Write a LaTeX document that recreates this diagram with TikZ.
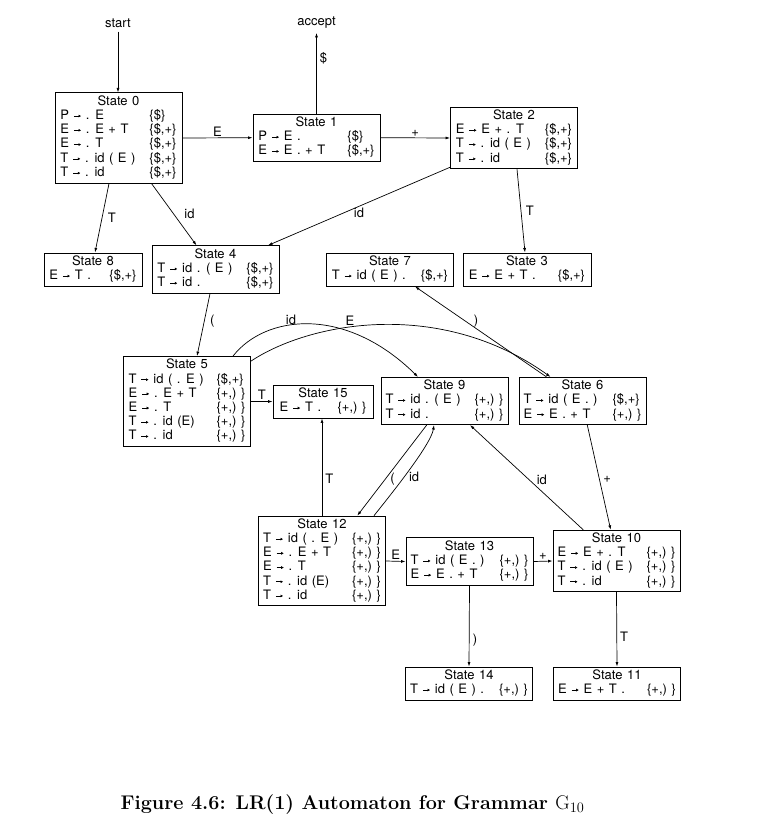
\documentclass[tikz,border=0pt]{standalone}
\usepackage{fontspec}
\usetikzlibrary{arrows.meta}
\newfontfamily\helv{TeX Gyre Heros}
\newcommand\myar{\tikz[baseline=0pt]\draw[line width=0.65pt,-{Latex[length=2.6pt,width=3pt]}] (0,3.4pt) -- (7.2pt,3.4pt);}
\newcommand\LAd{\{\$,+\}}
\newcommand\LAp{\{+,)\ \}}
\newcommand\LAs{\{\$\}}
\newcommand\stfont{\helv\fontsize{13}{14.2}\selectfont\spaceskip 4.5pt\relax}
\tikzset{
  st/.style={draw, line width=0.9pt, inner xsep=0pt, inner ysep=2.3pt,
    minimum width=127pt, font=\stfont},
  lab/.style={font=\helv\fontsize{13}{14.2}\selectfont, inner sep=1.5pt},
  tr/.style={-{Latex[length=4.5pt,width=3pt]}, line width=0.7pt},
}
\begin{document}
\begin{tikzpicture}[x=1pt,y=-1pt]
\useasboundingbox (0,0) rectangle (782,827);
% states
\node[st] (s0) at (118.5,138) {\begin{tabular}{@{}p{89pt}@{}l@{}}\multicolumn{2}{@{}c@{}}{State 0}\\
P \myar{} . E & \LAs\\ E \myar{} . E + T & \LAd\\ E \myar{} . T & \LAd\\ T \myar{} . id ( E ) & \LAd\\ T \myar{} . id & \LAd\end{tabular}};
\node[st] (s1) at (316.5,137.7) {\begin{tabular}{@{}p{89pt}@{}l@{}}\multicolumn{2}{@{}c@{}}{State 1}\\
P \myar{} E . & \LAs\\ E \myar{} E . + T & \LAd\end{tabular}};
\node[st] (s2) at (514,138) {\begin{tabular}{@{}p{89pt}@{}l@{}}\multicolumn{2}{@{}c@{}}{State 2}\\
E \myar{} E + . T & \LAd\\ T \myar{} . id ( E ) & \LAd\\ T \myar{} . id & \LAd\end{tabular}};
\node[st, minimum width=98pt] (s8) at (93,269.5) {\begin{tabular}{@{}p{60pt}@{}l@{}}\multicolumn{2}{@{}c@{}}{State 8}\\
E \myar{} T . & \LAd\end{tabular}};
\node[st] (s4) at (215.5,269.5) {\begin{tabular}{@{}p{89pt}@{}l@{}}\multicolumn{2}{@{}c@{}}{State 4}\\
T \myar{} id . ( E ) & \LAd\\ T \myar{} id . & \LAd\end{tabular}};
\node[st] (s7) at (390,269.5) {\begin{tabular}{@{}p{89pt}@{}l@{}}\multicolumn{2}{@{}c@{}}{State 7}\\
T \myar{} id ( E ) . & \LAd\end{tabular}};
\node[st, minimum width=128pt] (s3) at (527,269.5) {\begin{tabular}{@{}p{89pt}@{}l@{}}\multicolumn{2}{@{}c@{}}{State 3}\\
E \myar{} E + T . & \LAd\end{tabular}};
\node[st] (s5) at (187,401.5) {\begin{tabular}{@{}p{88pt}@{}l@{}}\multicolumn{2}{@{}c@{}}{State 5}\\
T \myar{} id ( . E ) & \LAd\\ E \myar{} . E + T & \LAp\\ E \myar{} . T & \LAp\\ T \myar{} . id (E) & \LAp\\ T \myar{} . id & \LAp\end{tabular}};
\node[st, minimum width=100pt] (s15) at (323,401.5) {\begin{tabular}{@{}p{58pt}@{}l@{}}\multicolumn{2}{@{}c@{}}{State 15}\\
E \myar{} T . & \LAp\end{tabular}};
\node[st] (s9) at (444.5,401) {\begin{tabular}{@{}p{89pt}@{}l@{}}\multicolumn{2}{@{}c@{}}{State 9}\\
T \myar{} id . ( E ) & \LAp\\ T \myar{} id . & \LAp\end{tabular}};
\node[st] (s6) at (582.5,401) {\begin{tabular}{@{}p{89pt}@{}l@{}}\multicolumn{2}{@{}c@{}}{State 6}\\
T \myar{} id ( E . ) & \LAd\\ E \myar{} E . + T & \LAp\end{tabular}};
\node[st] (s12) at (322,561) {\begin{tabular}{@{}p{89pt}@{}l@{}}\multicolumn{2}{@{}c@{}}{State 12}\\
T \myar{} id ( . E ) & \LAp\\ E \myar{} . E + T & \LAp\\ E \myar{} . T & \LAp\\ T \myar{} . id (E) & \LAp\\ T \myar{} . id & \LAp\end{tabular}};
\node[st] (s13) at (469.5,561.5) {\begin{tabular}{@{}p{89pt}@{}l@{}}\multicolumn{2}{@{}c@{}}{State 13}\\
T \myar{} id ( E . ) & \LAp\\ E \myar{} E . + T & \LAp\end{tabular}};
\node[st] (s10) at (616.5,561) {\begin{tabular}{@{}p{89pt}@{}l@{}}\multicolumn{2}{@{}c@{}}{State 10}\\
E \myar{} E + . T & \LAp\\ T \myar{} . id ( E ) & \LAp\\ T \myar{} . id & \LAp\end{tabular}};
\node[st] (s14) at (469,683.5) {\begin{tabular}{@{}p{89pt}@{}l@{}}\multicolumn{2}{@{}c@{}}{State 14}\\
T \myar{} id ( E ) . & \LAp\end{tabular}};
\node[st] (s11) at (617,683.5) {\begin{tabular}{@{}p{89pt}@{}l@{}}\multicolumn{2}{@{}c@{}}{State 11}\\
E \myar{} E + T . & \LAp\end{tabular}};
% start / accept
\node[lab, inner ysep=4pt] (start) at (118,23) {start};
\node[lab, inner ysep=4pt] (accept) at (316.5,23) {accept};
% caption
\node[anchor=base, inner sep=0pt, font=\bfseries\fontsize{19.8}{24}\selectfont] (cap) at (352.5,809)
  {Figure 4.6: LR(1) Automaton for Grammar $\mathrm{G}_{10}$};
% transitions
\draw[tr] (start.south) -- (start.south |- s0.north);
\draw[tr] (s1.north) -- (s1.north |- accept.south) node[lab, pos=0.69, right=1.5pt] {\$};
\draw[tr] (s0.east) -- (s1.west) node[lab, midway, above] {E};
\draw[tr] (s1.east) -- (s2.west) node[lab, midway, above] {+};
\draw[tr] ([xshift=-9.5pt]s0.south) -- ([xshift=2pt]s8.north) node[lab, midway, right=4pt] {T};
\draw[tr] ([xshift=33pt]s0.south) -- ([xshift=-19pt]s4.north) node[lab, pos=0.49, right=9pt] {id};
\draw[tr] ([yshift=2pt]s2.south west) -- ([xshift=52.5pt]s4.north) node[lab, midway, below] {id};
\draw[tr] ([xshift=3pt]s2.south) -- ([xshift=-2pt]s3.north) node[lab, midway, right=3pt] {T};
\draw[tr] ([xshift=-5.5pt]s4.south) -- ([xshift=10pt]s5.north) node[lab, pos=0.44, right=4pt] {(};
\draw[tr] ([xshift=46pt]s5.north) .. controls (265,315) and (345,305) .. ([xshift=-26.5pt]s9.north)
  node[lab, pos=0.4, anchor=south, inner sep=0pt] {id};
\draw[tr] ([yshift=-5pt]s5.north east) .. controls (310,322) and (440,298) .. ([xshift=-32pt]s6.north)
  node[lab, pos=0.4, anchor=south, inner sep=1pt] {E};
\draw[tr] ([xshift=-36pt]s6.north) -- ([xshift=25pt]s7.south) node[lab, pos=0.62, right=7pt] {)};
\draw[tr] (s5.east) -- (s15.west) node[lab, midway, above] {T};
\draw[tr] (s12.north) -- (s12.north |- s15.south) node[lab, pos=0.38, right=1.5pt] {T};
\draw[tr] ([xshift=-17.8pt]s9.south) -- ([xshift=35.3pt]s12.north) node[lab, pos=0.6, right=3.5pt] {(};
\draw[tr] ([xshift=52pt]s12.north) .. controls (388,498) and (431,445) .. ([xshift=-10.5pt]s9.south)
  node[lab, pos=0.45, right=3pt] {id};
\draw[tr] ([xshift=-33.2pt]s10.north) -- ([xshift=25.5pt]s9.south) node[lab, pos=0.48, right=6pt] {id};
\draw[tr] ([xshift=4.8pt]s6.south) -- ([xshift=-5.8pt]s10.north) node[lab, pos=0.52, right=2pt] {+};
\draw[tr] (s12.east) -- (s13.west) node[lab, midway, above] {E};
\draw[tr] (s13.east) -- (s10.west) node[lab, midway, above] {+};
\draw[tr] (s13.south) -- (s14.north) node[lab, pos=0.67, right=1.8pt] {)};
\draw[tr] (s10.south) -- (s11.north) node[lab, pos=0.6, right=1.5pt] {T};
\end{tikzpicture}
\end{document}
